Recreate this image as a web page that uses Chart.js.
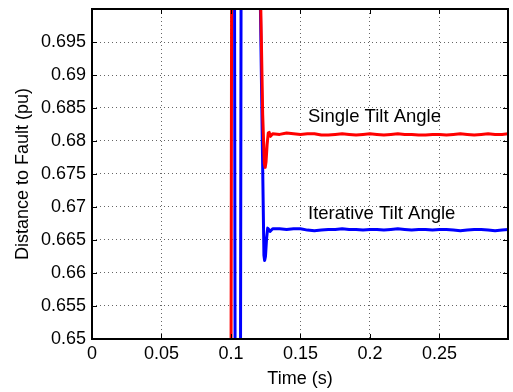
<!DOCTYPE html>
<html>
<head>
<meta charset="utf-8">
<script src="https://cdn.jsdelivr.net/npm/chart.js@4"></script>
<style>
  html, body { margin: 0; padding: 0; background: #fff; }
  #wrap { width: 513px; height: 392px; }
</style>
</head>
<body>
<div id="wrap"><canvas id="faultChart"></canvas></div>
<script>
// tick positions
const xTicks = [0, 0.05, 0.1, 0.15, 0.2, 0.25];
const yTicks = [0.65, 0.655, 0.66, 0.665, 0.67, 0.675, 0.68, 0.685, 0.69, 0.695];

// single tilt angle estimate (pu) - off scale until the fault settles
const singleTime = [0, 0.1000, 0.1005, 0.1206, 0.1228, 0.1240, 0.1246, 0.1252, 0.1260, 0.1268, 0.1275, 0.1284,
  0.130, 0.135, 0.140, 0.145, 0.150, 0.155, 0.160, 0.165, 0.170, 0.175, 0.180, 0.185, 0.190, 0.195,
  0.200, 0.205, 0.210, 0.215, 0.220, 0.225, 0.230, 0.235, 0.240, 0.245, 0.250, 0.255, 0.260, 0.265,
  0.270, 0.275, 0.280, 0.285, 0.290, 0.295, 0.300];
const singleDist = [0.64, 0.64, 0.71, 0.71, 0.684, 0.6766, 0.6760, 0.6768, 0.6795, 0.6812, 0.6813, 0.6807,
  0.6811, 0.6810, 0.6812, 0.6811, 0.6810, 0.6811, 0.6811, 0.6809, 0.6809, 0.6810, 0.6811, 0.6810, 0.6809, 0.6810,
  0.6811, 0.6810, 0.6809, 0.6810, 0.6811, 0.6810, 0.6810, 0.6809, 0.6809, 0.6810, 0.6810, 0.6809, 0.6810, 0.6811,
  0.6810, 0.6809, 0.6810, 0.6811, 0.6810, 0.6810, 0.6811];

// iterative tilt angle estimate (pu)
const iterTime = [0, 0.1025, 0.1030, 0.1068, 0.1073, 0.1205, 0.1237, 0.1242, 0.1248, 0.1256, 0.1264, 0.1272, 0.1281,
  0.130, 0.135, 0.140, 0.145, 0.150, 0.155, 0.160, 0.165, 0.170, 0.175, 0.180, 0.185, 0.190, 0.195,
  0.200, 0.205, 0.210, 0.215, 0.220, 0.225, 0.230, 0.235, 0.240, 0.245, 0.250, 0.255, 0.260, 0.265,
  0.270, 0.275, 0.280, 0.285, 0.290, 0.295, 0.300];
const iterDist = [0.71, 0.71, 0.64, 0.64, 0.71, 0.71, 0.6627, 0.6619, 0.6625, 0.6652, 0.6668, 0.6666, 0.6663,
  0.6667, 0.6667, 0.6666, 0.6667, 0.6667, 0.6665, 0.6664, 0.6665, 0.6666, 0.6666, 0.6667, 0.6666, 0.6666, 0.6665,
  0.6666, 0.6666, 0.6665, 0.6666, 0.6667, 0.6666, 0.6665, 0.6666, 0.6666, 0.6665, 0.6666, 0.6666, 0.6665, 0.6664,
  0.6665, 0.6666, 0.6666, 0.6665, 0.6664, 0.6665, 0.6666];

const seriesLabels = [
  { text: 'Single Tilt Angle', x: 0.1554, y: 0.6836 },
  { text: 'Iterative Tilt Angle', x: 0.1554, y: 0.6690 },
];

const FONT = 'Arial, "Liberation Sans", sans-serif';

const toPoints = (xs, ys) => xs.map((x, i) => ({ x, y: ys[i] }));

// fixed tick lists instead of generated ones
const useTicks = list => scale => { scale.ticks = list.map(value => ({ value })); };

// no extra room for tick label overhang, the layout padding sets the plot box
const noOverhang = size => scale => {
  scale.paddingTop = 0; scale.paddingBottom = 0;
  scale.paddingLeft = 0; scale.paddingRight = 0;
  if (scale.isHorizontal()) scale.height = size; else scale.width = size;
};

// box around the axes, inward tick marks and in-plot text
const framePlugin = {
  id: 'frame',
  afterDatasetsDraw(chart) {
    const { ctx, chartArea: a, scales: { x, y } } = chart;
    ctx.save();
    ctx.strokeStyle = '#000';
    ctx.lineWidth = 1;
    ctx.beginPath();
    xTicks.forEach(v => {
      const px = Math.round(x.getPixelForValue(v)) + 0.5;
      ctx.moveTo(px, a.bottom); ctx.lineTo(px, a.bottom - 5);
      ctx.moveTo(px, a.top); ctx.lineTo(px, a.top + 5);
    });
    yTicks.forEach(v => {
      const py = Math.round(y.getPixelForValue(v)) + 0.5;
      ctx.moveTo(a.left, py); ctx.lineTo(a.left + 5, py);
      ctx.moveTo(a.right, py); ctx.lineTo(a.right - 5, py);
    });
    ctx.stroke();
    ctx.lineWidth = 2;
    ctx.strokeRect(a.left, a.top, a.right - a.left, a.bottom - a.top);

    ctx.fillStyle = '#000';
    ctx.font = '18.5px ' + FONT;
    ctx.textBaseline = 'middle';
    seriesLabels.forEach(l => {
      ctx.fillText(l.text, x.getPixelForValue(l.x), y.getPixelForValue(l.y));
    });
    ctx.restore();
  },
};

new Chart(document.getElementById('faultChart'), {
  type: 'line',
  data: {
    datasets: [
      {
        label: 'Single Tilt Angle',
        data: toPoints(singleTime, singleDist),
        borderColor: '#ff0000',
        borderWidth: 3,
        borderJoinStyle: 'round',
        pointRadius: 0,
        tension: 0,
      },
      {
        label: 'Iterative Tilt Angle',
        data: toPoints(iterTime, iterDist),
        borderColor: '#0000ff',
        borderWidth: 3,
        borderJoinStyle: 'round',
        pointRadius: 0,
        tension: 0,
      },
    ],
  },
  options: {
    responsive: true,
    maintainAspectRatio: false,
    animation: false,
    layout: { padding: { top: 9, right: 5, left: 0, bottom: 0 } },
    plugins: { legend: { display: false }, tooltip: { enabled: false } },
    scales: {
      x: {
        type: 'linear',
        min: 0,
        max: 0.2993,
        afterBuildTicks: useTicks(xTicks),
        afterFit: noOverhang(53),
        grid: { color: 'rgba(0,0,0,0.6)', lineWidth: 1, drawTicks: false },
        border: { display: false, dash: [1, 3] },
        ticks: {
          color: '#000',
          font: { family: FONT, size: 18 },
          padding: 4,
          maxRotation: 0,
          callback: v => String(Number(v.toFixed(3))),
        },
        title: {
          display: true,
          text: 'Time (s)',
          color: '#000',
          font: { family: FONT, size: 18 },
          padding: { top: 0, bottom: 2 },
        },
      },
      y: {
        min: 0.65,
        max: 0.7,
        afterBuildTicks: useTicks(yTicks),
        afterFit: noOverhang(92),
        grid: { color: 'rgba(0,0,0,0.6)', lineWidth: 1, drawTicks: false },
        border: { display: false, dash: [1, 3] },
        ticks: {
          color: '#000',
          font: { family: FONT, size: 18 },
          padding: 6,
          callback: v => String(Number(v.toFixed(3))),
        },
        title: {
          display: true,
          text: 'Distance to Fault (pu)',
          color: '#000',
          font: { family: FONT, size: 18 },
          padding: { top: 12, bottom: 0 },
        },
      },
    },
  },
  plugins: [framePlugin],
});
</script>
</body>
</html>
